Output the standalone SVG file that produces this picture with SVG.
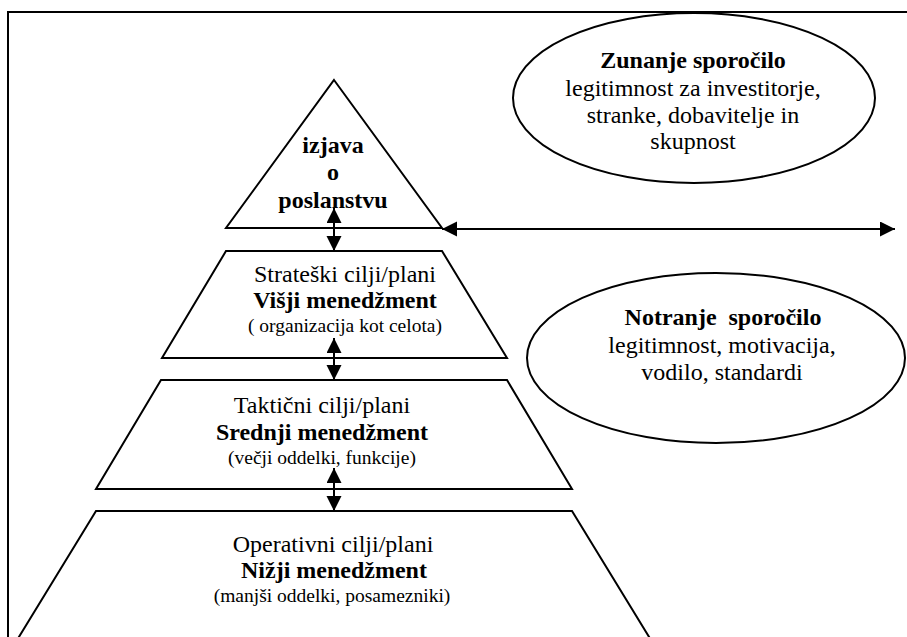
<svg xmlns="http://www.w3.org/2000/svg" width="907" height="637" viewBox="0 0 907 637">
<style>
.shape{fill:#fff;stroke:#000;stroke-width:2}
.t{font-family:"Liberation Serif","Times New Roman",serif;font-size:24px;fill:#000;text-anchor:middle}
.b{font-weight:bold}
.s{font-size:19.5px}
.con{stroke:#000;stroke-width:2;fill:none;marker-start:url(#ah);marker-end:url(#ah)}
</style>
<defs>
<marker id="ah" markerUnits="userSpaceOnUse" markerWidth="16" markerHeight="16" refX="15" refY="7.5" orient="auto-start-reverse" viewBox="0 0 16 16">
<path d="M0,0 L15,7.5 L0,15 z" fill="#000"/>
</marker>
</defs>
<rect x="0" y="0" width="907" height="637" fill="#fff"/>
<path d="M8,660 L8,12 L920,12" fill="none" stroke="#000" stroke-width="2"/>

<g id="tier4">
<polygon class="shape" points="96,511 572,511 654,645 14,645"/>
<text class="t" x="333" y="552">Operativni cilji/plani</text>
<text class="t b" x="334" y="578">Nižji menedžment</text>
<text class="t s" x="332" y="602">(manjši oddelki, posamezniki)</text>
</g>
<g id="tier3">
<polygon class="shape" points="161,380 507,380 572,489 96,489"/>
<text class="t" x="322" y="413">Taktični cilji/plani</text>
<text class="t b" x="322" y="440">Srednji menedžment</text>
<text class="t s" x="322" y="464">(večji oddelki, funkcije)</text>
</g>
<g id="tier2">
<polygon class="shape" points="226,251 442,251 507,358 162,358"/>
<text class="t" x="345" y="282">Strateški cilji/plani</text>
<text class="t b" x="345" y="308">Višji menedžment</text>
<text class="t s" x="345" y="332">( organizacija kot celota)</text>
</g>
<g id="tier1">
<polygon class="shape" points="334,80 442,228 226,228"/>
<text class="t b" x="333" y="153">izjava</text>
<text class="t b" x="333" y="180">o</text>
<text class="t b" x="333" y="208">poslanstvu</text>
</g>
<g id="external">
<ellipse class="shape" cx="694" cy="98" rx="181" ry="85"/>
<text class="t b" x="693" y="68">Zunanje sporočilo</text>
<text class="t" x="693" y="96">legitimnost za investitorje,</text>
<text class="t" x="693" y="123">stranke, dobavitelje in</text>
<text class="t" x="693" y="149">skupnost</text>
</g>
<g id="internal">
<ellipse class="shape" cx="716" cy="358" rx="189" ry="85"/>
<text class="t b" x="723" y="325" xml:space="preserve">Notranje  sporočilo</text>
<text class="t" x="722" y="353">legitimnost, motivacija,</text>
<text class="t" x="722" y="380">vodilo, standardi</text>
</g>
<g id="connectors">
<line class="con" x1="442" y1="229" x2="895" y2="229"/>
<line class="con" x1="334" y1="208" x2="334" y2="251"/>
<line class="con" x1="334" y1="338" x2="334" y2="380"/>
<line class="con" x1="334" y1="468" x2="334" y2="511"/>
</g>
</svg>
